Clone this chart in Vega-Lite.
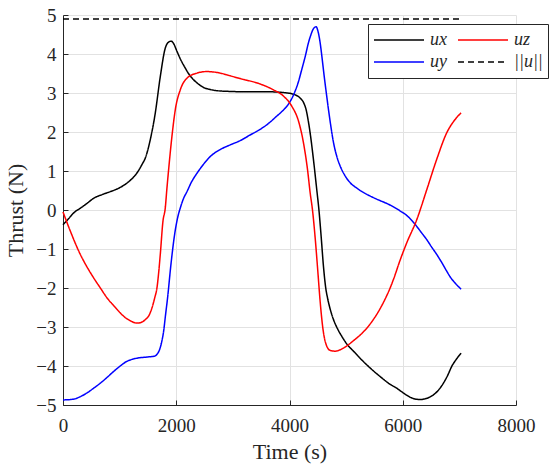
{
  "$schema": "https://vega.github.io/schema/vega-lite/v6.json",
  "width": 453,
  "height": 390,
  "autosize": "none",
  "padding": {"left": 63, "top": 15, "right": 34, "bottom": 65},
  "background": "white",
  "datasets": {
    "ux": [
      [0, -0.38], [100, -0.22], [200, -0.06], [300, 0.04], [424, 0.17], [541, 0.3], [700, 0.4], [835, 0.47],
      [1000, 0.57], [1129, 0.69], [1250, 0.85], [1306, 0.95], [1400, 1.18], [1453, 1.33], [1541, 1.8],
      [1629, 2.48], [1718, 3.42], [1806, 4.15], [1860, 4.3], [1912, 4.33], [1960, 4.25], [2012, 4.07],
      [2080, 3.85], [2159, 3.64], [2230, 3.47], [2306, 3.34], [2400, 3.22], [2483, 3.14], [2600, 3.09],
      [2718, 3.06], [2953, 3.04], [3300, 3.03], [3659, 3.03], [3900, 3.01], [4041, 2.98], [4120, 2.94],
      [4188, 2.87], [4250, 2.75], [4294, 2.57], [4330, 2.3], [4365, 1.97], [4424, 1.28], [4483, 0.5],
      [4520, 0.0], [4560, -0.7], [4600, -1.45], [4640, -2.0], [4671, -2.25], [4720, -2.55], [4777, -2.81],
      [4850, -3.05], [4924, -3.24], [5020, -3.45], [5130, -3.62], [5280, -3.85], [5424, -4.05],
      [5600, -4.27], [5777, -4.47], [5894, -4.57], [6000, -4.68], [6130, -4.8], [6230, -4.85],
      [6306, -4.86], [6400, -4.84], [6541, -4.74], [6630, -4.62], [6718, -4.44], [6800, -4.22],
      [6865, -4.01], [6950, -3.82], [7030, -3.67]
    ],
    "uy": [
      [0, -4.87], [188, -4.85], [300, -4.79], [424, -4.69], [540, -4.57], [659, -4.44], [780, -4.29],
      [894, -4.14], [1010, -4.0], [1129, -3.88], [1220, -3.83], [1306, -3.8], [1482, -3.77], [1612, -3.75],
      [1660, -3.7], [1706, -3.58], [1740, -3.4], [1777, -3.11], [1810, -2.7], [1847, -2.25], [1906, -1.4],
      [1971, -0.63], [2024, -0.2], [2071, 0.05], [2130, 0.3], [2189, 0.47], [2270, 0.72], [2365, 0.94],
      [2480, 1.17], [2600, 1.37], [2776, 1.55], [2953, 1.67], [3130, 1.78], [3300, 1.92], [3483, 2.07],
      [3630, 2.22], [3777, 2.41], [3870, 2.53], [3953, 2.66], [4030, 2.83], [4100, 3.05], [4160, 3.3],
      [4218, 3.61], [4280, 3.95], [4335, 4.29], [4380, 4.5], [4412, 4.62], [4450, 4.69], [4471, 4.7],
      [4500, 4.6], [4541, 4.29], [4575, 3.9], [4612, 3.44], [4650, 3.0], [4688, 2.58], [4730, 2.15],
      [4777, 1.73], [4830, 1.4], [4894, 1.13], [4980, 0.88], [5071, 0.7], [5190, 0.56], [5306, 0.45],
      [5450, 0.34], [5600, 0.24], [5700, 0.18], [5836, 0.08], [5950, -0.02], [6071, -0.14], [6160, -0.27],
      [6247, -0.42], [6330, -0.58], [6424, -0.76], [6510, -0.95], [6600, -1.14], [6690, -1.35],
      [6777, -1.57], [6850, -1.74], [6924, -1.87], [7030, -2.03]
    ],
    "uz": [
      [0, -0.05], [129, -0.54], [306, -1.14], [420, -1.45], [541, -1.74], [660, -2.0], [776, -2.25],
      [900, -2.46], [1012, -2.64], [1100, -2.76], [1188, -2.84], [1306, -2.9], [1400, -2.87], [1453, -2.81],
      [1520, -2.7], [1571, -2.51], [1620, -2.25], [1659, -2.0], [1690, -1.6], [1718, -1.14], [1765, -0.29],
      [1806, 0.05], [1835, 0.55], [1865, 1.03], [1924, 1.89], [1983, 2.57], [2071, 3.08], [2189, 3.38],
      [2365, 3.51], [2542, 3.55], [2777, 3.51], [2953, 3.44], [3130, 3.37], [3483, 3.23], [3718, 3.08],
      [3894, 2.92], [4041, 2.66], [4159, 2.28], [4247, 1.72], [4318, 1.04], [4365, 0.44], [4406, 0.0],
      [4453, -0.71], [4500, -1.57], [4541, -2.34], [4589, -3.03], [4647, -3.45], [4718, -3.6],
      [4806, -3.62], [4953, -3.54], [5130, -3.35], [5365, -3.03], [5600, -2.53], [5700, -2.25],
      [5777, -2.0], [5836, -1.78], [5950, -1.3], [6071, -0.84], [6247, -0.25], [6424, 0.52], [6600, 1.3],
      [6777, 1.98], [6924, 2.32], [7030, 2.49]
    ],
    "norm": [[0, 4.9], [7030, 4.9]]
  },
  "layer": [
    {
      "data": {"name": "ux"},
      "transform": [
        {"calculate": "datum[0]", "as": "t"},
        {"calculate": "datum[1]", "as": "v"},
        {"calculate": "'ux'", "as": "s"}
      ],
      "mark": {"type": "line", "strokeWidth": 1.5, "interpolate": "monotone"}
    },
    {
      "data": {"name": "uy"},
      "transform": [
        {"calculate": "datum[0]", "as": "t"},
        {"calculate": "datum[1]", "as": "v"},
        {"calculate": "'uy'", "as": "s"}
      ],
      "mark": {"type": "line", "strokeWidth": 1.5, "interpolate": "monotone"}
    },
    {
      "data": {"name": "uz"},
      "transform": [
        {"calculate": "datum[0]", "as": "t"},
        {"calculate": "datum[1]", "as": "v"},
        {"calculate": "'uz'", "as": "s"}
      ],
      "mark": {"type": "line", "strokeWidth": 1.5, "interpolate": "monotone"}
    },
    {
      "data": {"name": "norm"},
      "transform": [
        {"calculate": "datum[0]", "as": "t"},
        {"calculate": "datum[1]", "as": "v"},
        {"calculate": "'||u||'", "as": "s"}
      ],
      "mark": {"type": "line", "strokeWidth": 1.5}
    }
  ],
  "encoding": {
    "x": {
      "field": "t",
      "type": "quantitative",
      "title": "Time (s)",
      "scale": {"domain": [0, 8000], "nice": false},
      "axis": {
        "values": [0, 2000, 4000, 6000, 8000],
        "format": "d",
        "labelFont": "Liberation Serif",
        "labelFontSize": 19,
        "labelPadding": 16,
        "titlePadding": 6
      }
    },
    "y": {
      "field": "v",
      "type": "quantitative",
      "title": "Thrust (N)",
      "scale": {"domain": [-5, 5], "nice": false},
      "axis": {
        "values": [-5, -4, -3, -2, -1, 0, 1, 2, 3, 4, 5],
        "format": "d",
        "labelFont": "Liberation Serif",
        "labelFontSize": 19,
        "labelPadding": 12,
        "titlePadding": 8
      }
    },
    "color": {
      "field": "s",
      "type": "nominal",
      "title": null,
      "scale": {"domain": ["ux", "uy", "uz", "||u||"], "range": ["#000000", "#0000ff", "#ff0000", "#000000"]},
      "legend": {"labelFont": "Liberation Serif", "labelFontStyle": "italic", "labelFontSize": 18}
    },
    "strokeDash": {
      "field": "s",
      "type": "nominal",
      "title": null,
      "scale": {"domain": ["ux", "uy", "uz", "||u||"], "range": [[1, 0], [1, 0], [1, 0], [6, 4]]},
      "legend": {"labelFont": "Liberation Serif", "labelFontStyle": "italic", "labelFontSize": 18}
    }
  },
  "config": {
    "view": {"stroke": null},
    "font": "Liberation Serif",
    "axis": {
      "titleFont": "Liberation Serif",
      "titleFontSize": 22,
      "titleFontWeight": "normal",
      "labelColor": "#262626",
      "titleColor": "#262626",
      "domainColor": "#262626",
      "tickColor": "#262626",
      "tickSize": -5,
      "gridColor": "#e2e2e2",
      "gridWidth": 1,
      "labelFlush": false,
      "labelOverlap": false
    },
    "legend": {
      "orient": "none",
      "legendX": 305,
      "legendY": 9,
      "columns": 2,
      "symbolType": "stroke",
      "symbolSize": 2500,
      "symbolStrokeWidth": 1.5,
      "clipHeight": 22,
      "rowPadding": 0,
      "columnPadding": 10,
      "padding": 5,
      "strokeColor": "#262626",
      "fillColor": "white",
      "labelColor": "#262626",
      "labelOffset": 5,
      "symbolOffset": 0
    }
  }
}
